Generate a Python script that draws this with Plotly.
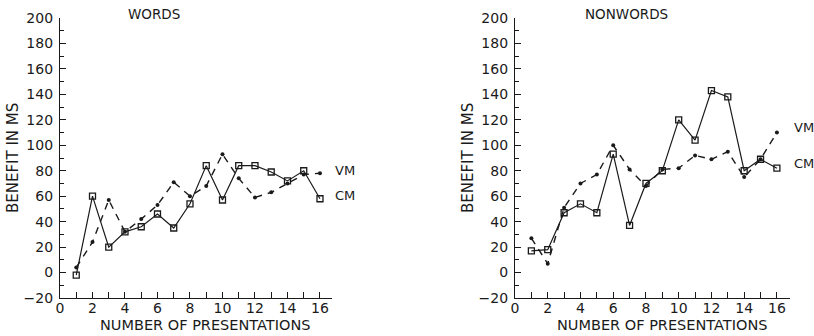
import plotly.graph_objects as go

presentations = list(range(1, 17))
words_cm = [-2, 60, 20, 32, 36, 46, 35, 54, 84, 57, 84, 84, 79, 72, 80, 58]
words_vm = [4, 24, 57, 32, 42, 53, 71, 60, 68, 93, 74, 59, 63, 70, 77, 78]
nonwords_cm = [17, 18, 47, 54, 47, 93, 37, 70, 80, 120, 104, 143, 138, 80, 89, 82]
nonwords_vm = [27, 7, 51, 70, 77, 100, 81, 68, 81, 82, 92, 89, 95, 75, 89, 110]
y_ticks = list(range(-20, 201, 20))
y_ticklabels = ["\u221220"] + [str(v) for v in range(0, 201, 20)]
x_ticks = list(range(0, 17, 2))
panel_titles = ["WORDS", "NONWORDS"]

FONT = "DejaVu Sans, Liberation Sans, sans-serif"
INK = "#1a1a1a"
W, H = 814, 336


def px(x):
    return x / W


def py(y):
    return 1 - y / H


fig = go.Figure()

panels = [
    (words_cm, words_vm, "x", "y"),
    (nonwords_cm, nonwords_vm, "x2", "y2"),
]
for cm, vm, xa, ya in panels:
    fig.add_trace(go.Scatter(
        x=presentations, y=vm, xaxis=xa, yaxis=ya, mode="lines+markers",
        line=dict(color=INK, width=1.4, dash="7px,6px"),
        marker=dict(symbol="circle", size=4, color=INK),
        showlegend=False, cliponaxis=False))
    fig.add_trace(go.Scatter(
        x=presentations, y=cm, xaxis=xa, yaxis=ya, mode="lines+markers",
        line=dict(color=INK, width=1.2),
        marker=dict(symbol="square-open", size=6, color=INK, line=dict(width=1.3)),
        showlegend=False, cliponaxis=False))

axis_common = dict(
    showgrid=False, zeroline=False, showline=True, linecolor=INK, linewidth=1.2,
    ticks="inside", tickcolor=INK, tickwidth=1, ticklen=6, automargin=False,
    tickfont=dict(family=FONT, size=14, color=INK),
)
xaxis_common = dict(axis_common, tickmode="array", tickvals=x_ticks,
                    ticktext=[str(v) for v in x_ticks], ticklabelstandoff=-3,
                    minor=dict(dtick=1, ticks="inside", ticklen=6, tickcolor=INK))
yaxis_common = dict(axis_common, tickmode="array", tickvals=y_ticks,
                    ticktext=y_ticklabels, range=[-20, 200], ticklabelstandoff=3,
                    minor=dict(dtick=10, ticks="inside", ticklen=4, tickcolor=INK))

fig.update_layout(
    width=W, height=H,
    margin=dict(l=0, r=0, t=0, b=0, autoexpand=False),
    paper_bgcolor="white", plot_bgcolor="white",
    font=dict(family=FONT, color=INK),
    xaxis=dict(xaxis_common, domain=[px(60), px(332)], range=[0, 16.74], anchor="y"),
    yaxis=dict(yaxis_common, domain=[py(298), py(18)], anchor="x"),
    xaxis2=dict(xaxis_common, domain=[px(515), px(790)], range=[0, 16.8], anchor="y2"),
    yaxis2=dict(yaxis_common, domain=[py(298), py(18)], anchor="x2"),
)


def label(text, x, y, size, xanchor="center", angle=0):
    fig.add_annotation(text=text, xref="paper", yref="paper", x=px(x), y=py(y),
                       xanchor=xanchor, yanchor="middle", textangle=angle,
                       showarrow=False, font=dict(family=FONT, size=size, color=INK))


# axis titles
for cx in (205, 662):
    label("NUMBER OF PRESENTATIONS", cx, 325, 14.5)
for cx in (13, 468):
    label("BENEFIT IN MS", cx, 158, 15, angle=-90)
# panel titles
label(panel_titles[0], 154, 14, 13.5)
label(panel_titles[1], 626, 14, 13.5)
# series labels
label("VM", 333, 170, 13, xanchor="left")
label("CM", 333, 195, 13, xanchor="left")
label("VM", 792, 127, 13, xanchor="left")
label("CM", 792, 163, 13, xanchor="left")

fig.write_html(
    "out.html",
    config={"displayModeBar": False},
    post_script="document.body.style.margin='0px';document.body.style.overflow='hidden';",
)
